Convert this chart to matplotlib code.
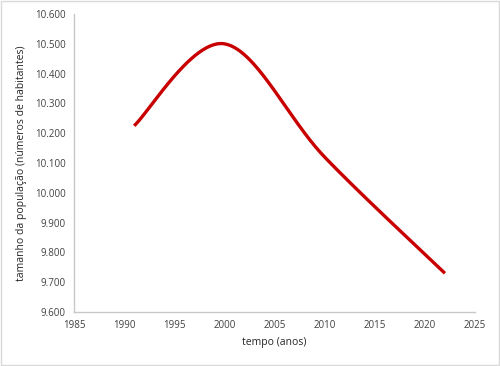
import numpy as np
import matplotlib
matplotlib.use("Agg")
import matplotlib.pyplot as plt
from matplotlib.ticker import FuncFormatter, MultipleLocator

years = [1991, 2000, 2010, 2022]
population = [10.225, 10.500, 10.120, 9.730]

def excel_smooth(xs, ys, n=60):
    pts = np.column_stack([xs, ys]).astype(float)
    ext = np.vstack([pts[0], pts, pts[-1]])
    out = []
    for i in range(1, len(ext) - 2):
        p0, p1, p2, p3 = ext[i - 1], ext[i], ext[i + 1], ext[i + 2]
        c1 = p1 + (p2 - p0) / 6.0
        c2 = p2 - (p3 - p1) / 6.0
        t = np.linspace(0, 1, n)[:, None]
        seg = ((1 - t) ** 3) * p1 + 3 * ((1 - t) ** 2) * t * c1 + 3 * (1 - t) * t ** 2 * c2 + t ** 3 * p2
        out.append(seg if i == 1 else seg[1:])
    out = np.vstack(out)
    return out[:, 0], out[:, 1]

plt.rcParams['font.family'] = ['Open Sans', 'DejaVu Sans']

fig = plt.figure(figsize=(5.0, 3.66), dpi=100)
ax = fig.add_axes([0.148, 0.1475, 0.802, 0.8142])

sx, sy = excel_smooth(years, population)
ax.plot(sx, sy, color='#c80000', lw=2.4, solid_capstyle='butt')

ax.set_xlim(1985, 2025)
ax.set_ylim(9.6, 10.6)
ax.xaxis.set_major_locator(MultipleLocator(5))
ax.yaxis.set_major_locator(MultipleLocator(0.1))
ax.yaxis.set_major_formatter(FuncFormatter(lambda v, p: f"{v:.3f}"))
ax.tick_params(length=0, labelsize=7, colors='#404040', pad=6)
for s in ['top', 'right']:
    ax.spines[s].set_visible(False)
for s in ['left', 'bottom']:
    ax.spines[s].set_color('#c8c8c8')
    ax.spines[s].set_linewidth(1.0)

ax.set_xlabel('tempo (anos)', fontsize=7.5, color='#262626', labelpad=4)
ax.set_ylabel('tamanho da população (números de habitantes)', fontsize=7.5, color='#262626', labelpad=6)

border = plt.Rectangle((0.002, 0.003), 0.995, 0.994, transform=fig.transFigure,
                       fill=False, edgecolor='#d9d9d9', lw=1.0)
fig.patches.append(border)

fig.savefig('out.png', dpi=100)
